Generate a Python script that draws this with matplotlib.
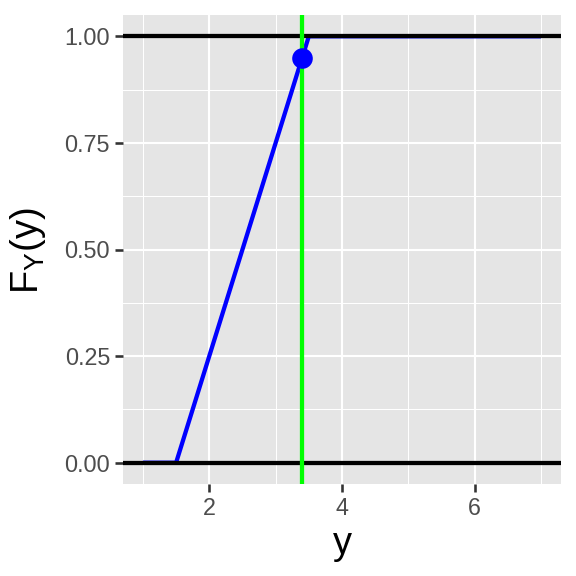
import matplotlib
matplotlib.use("Agg")
import matplotlib.pyplot as plt
from matplotlib.ticker import FixedLocator

# CDF of Uniform(1.5, 3.5) drawn over [1, 7]
cdf_x = [1.0, 1.5, 3.5, 7.0]
cdf_y = [0.0, 0.0, 1.0, 1.0]
hline_y = [0.0, 1.0]
vline_x = 3.4
point_x = [3.4]
point_y = [0.95]

x_major = [2, 4, 6]
x_minor = [1, 3, 5, 7]
y_major = [0.0, 0.25, 0.5, 0.75, 1.0]
y_labels = ["0.00", "0.25", "0.50", "0.75", "1.00"]
y_minor = [0.125, 0.375, 0.625, 0.875]

plt.rcParams['font.family'] = ['Liberation Sans', 'DejaVu Sans']

fig = plt.figure(figsize=(4, 4), dpi=144)
ax = fig.add_axes([123/576, 1-484/576, (561-123)/576, (484-15)/576])
ax.set_facecolor('#E5E5E5')
for s in ax.spines.values():
    s.set_visible(False)

ax.set_xlim(0.7, 7.3)
ax.set_ylim(-0.05, 1.05)

for v in x_major:
    ax.axvline(v, color='white', lw=1.07, zorder=0.5)
for v in x_minor:
    ax.axvline(v, color='white', lw=0.53, zorder=0.4)
for v in y_major:
    ax.axhline(v, color='white', lw=1.07, zorder=0.5)
for v in y_minor:
    ax.axhline(v, color='white', lw=0.53, zorder=0.4)

lw = 2.13
ax.plot(cdf_x, cdf_y, color='#0000FF', lw=lw, zorder=2, solid_capstyle='butt')
for h in hline_y:
    ax.axhline(h, color='black', lw=lw, zorder=3)
ax.axvline(vline_x, color='#00FF00', lw=lw, zorder=4)
ax.plot(point_x, point_y, 'o', color='#0000FF', markersize=10.3, markeredgewidth=0, zorder=5)

ax.xaxis.set_major_locator(FixedLocator(x_major))
ax.set_xticklabels([str(v) for v in x_major])
ax.yaxis.set_major_locator(FixedLocator(y_major))
ax.set_yticklabels(y_labels)
ax.tick_params(axis='both', which='major', length=4, width=1.3, color='#333333',
               labelcolor='#4D4D4D', labelsize=11.7, pad=2.5)

fig.text(342/576, 1-554/576, 'y', fontsize=19, color='black', ha='center', va='baseline')
fig.text(28/576, 1-251/576, r'F$_\mathregular{Y}$(y)', fontsize=19, color='black',
         ha='center', va='center', rotation=90)

fig.savefig('out.png', dpi=144)
